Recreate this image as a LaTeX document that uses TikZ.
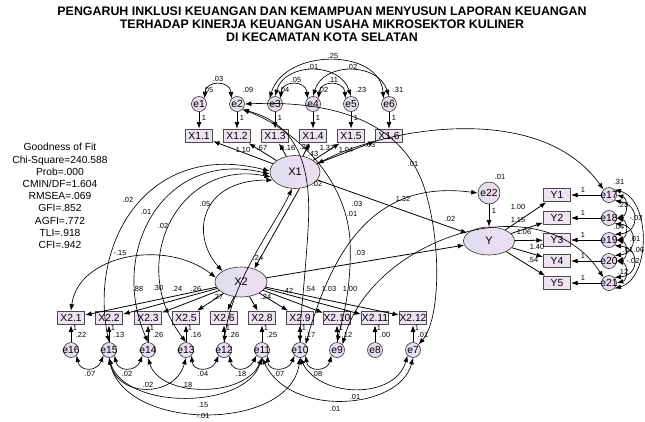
\documentclass[tikz,border=0pt]{standalone}
\usepackage{fontspec}
\setmainfont{Liberation Sans}
\usetikzlibrary{arrows.meta,shapes.geometric}
\definecolor{boxfill}{HTML}{EEE3F3}
\definecolor{shadeA}{HTML}{DCDFEE}
\definecolor{shadeB}{HTML}{F2DCF2}
\definecolor{rim}{HTML}{4A4A4A}
% zero-width text so that labels may overflow their shapes
\newcommand\zw[1]{\makebox[0pt]{#1}}
\begin{document}
\begin{tikzpicture}[x=1pt,y=-1pt,
  >={Latex[length=6.5pt,width=4.8pt]},
  reg/.style={->,line width=0.8pt},
  cov/.style={<->,line width=0.65pt},
  obs/.style={rectangle,draw=rim,line width=1.1pt,fill=boxfill,minimum width=27pt,minimum height=13.5pt,inner sep=0pt,font=\fontsize{10.3}{11}\selectfont},
  lat/.style={ellipse,draw=black!80,line width=0.6pt,left color=shadeA,right color=shadeB,inner sep=0pt,font=\fontsize{11}{12}\selectfont},
  err/.style={circle,draw=black!80,line width=0.6pt,left color=shadeA,right color=shadeB,minimum size=15pt,inner sep=0pt,font=\fontsize{10.3}{11}\selectfont},
  lbl/.style={inner sep=0pt,font=\fontsize{7.4}{8}\selectfont},
]
\useasboundingbox (0,0) rectangle (645,421);
\fill[white] (0,0) rectangle (645,421);

% title and fit indices
\node[font=\bfseries\fontsize{12.4}{13}\selectfont,align=center] (title) at (322,24)
 {PENGARUH INKLUSI KEUANGAN DAN KEMAMPUAN MENYUSUN LAPORAN KEUANGAN\\
  TERHADAP KINERJA KEUANGAN USAHA MIKROSEKTOR KULINER\\
  DI KECAMATAN KOTA SELATAN};
\node[font=\fontsize{10.3}{12.2}\selectfont,align=center] (fit) at (60,196)
 {Goodness of Fit\\Chi-Square=240.588\\Prob=.000\\CMIN/DF=1.604\\RMSEA=.069\\GFI=.852\\AGFI=.772\\TLI=.918\\CFI=.942};

% latent variables
\node[lat,minimum width=50pt,minimum height=33pt] (X1) at (295,172) {X1};
\node[lat,minimum width=52pt,minimum height=30pt] (X2) at (241,282) {X2};
\node[lat,minimum width=51pt,minimum height=28pt] (Y) at (489,241) {Y};
\node[err,minimum size=22pt] (e22) at (489,193) {e22};

% indicators of X1
\foreach \i in {1,...,6} {
  \pgfmathsetmacro{\xx}{161+38*\i}
  \node[err] (e\i) at (\xx,104) {\zw{e\i}};
  \node[obs] (X1\i) at (\xx,136) {\zw{X1.\i}};
}
% indicators of X2
\foreach \k/\xx/\ee in {1/71/16,2/109/15,3/148/14,5/186/13,6/224/12,8/262/11,9/300/10,10/337/9,11/375/8,12/413/7} {
  \node[obs] (X2\k) at (\xx,318) {\zw{X2.\k}};
  \node[err] (e\ee) at (\xx,350) {\zw{e\ee}};
}
% indicators of Y
\foreach \k/\yy in {1/195,2/218,3/240,4/261,5/283} {
  \pgfmathtruncatemacro{\ee}{16+\k}
  \node[obs] (Y\k) at (557,\yy) {\zw{Y\k}};
  \node[err] (e\ee) at (609,\yy) {\zw{e\ee}};
}

% regression paths
\foreach \i in {1,...,6} {
  \draw[reg] (e\i) -- (X1\i);
  \draw[reg] (X1) -- (X1\i);
}
\foreach \k/\ee in {1/16,2/15,3/14,5/13,6/12,8/11,9/10,10/9,11/8,12/7} {
  \draw[reg] (X2) -- (X2\k);
  \draw[reg] (e\ee) -- (X2\k);
}
\foreach \k in {1,...,5} {
  \pgfmathtruncatemacro{\ee}{16+\k}
  \draw[reg] (Y) -- (Y\k);
  \draw[reg] (e\ee) -- (Y\k);
}
\draw[reg] (e22) -- (Y);
\draw[reg] (X1) -- (Y);
\draw[reg] (X2) -- (Y);
\draw[reg] (X1.-75) -- (X2.45);

% covariances among e1..e6
\draw[cov] (e1.north east) .. controls (206,80) and (230,80) .. (e2.north west);
\draw[cov] (e3.north east) .. controls (282,80) and (306,80) .. (e4.north west);
\draw[cov] (e4.north east) .. controls (320,80) and (344,80) .. (e5.north west);
\draw[cov] (e3.north) .. controls (285,62) and (340,62) .. (e5.north);
\draw[cov] (e4.north) .. controls (323,62) and (378,62) .. (e6.north);
\draw[cov] (e3.north west) .. controls (285,48) and (380,48) .. (e6.north west);

% long covariances from e2
\draw[cov] (e2.east) .. controls (340,100) and (405,125) .. (425,190)
           .. controls (442,245) and (440,320) .. (e7.north east);
\draw[cov] (e2.south east) .. controls (285,125) and (345,170) .. (350,240)
           .. controls (352,290) and (342,320) .. (e9.north);
\draw[cov] (e2.south east) .. controls (300,125) and (312,170) .. (308,230)
           .. controls (305,280) and (300,320) .. (e10.north);

% covariances around X1 and X2
\draw[cov] (X1.178) .. controls (150,140) and (88,240) .. (e15.north);
\draw[cov] (X1.185) .. controls (165,148) and (108,250) .. (e14.north);
\draw[cov] (X1.192) .. controls (180,158) and (125,262) .. (e13.north);
\draw[cov] (X1.200) .. controls (200,180) and (190,235) .. (X2.north west);
\draw[cov] (X1.-100) .. controls (275,225) and (232,280) .. (e12.north);
\draw[cov] (X21.north) .. controls (78,255) and (165,238) .. (X2.170);
\draw[cov] (X1.20) .. controls (385,128) and (540,100) .. (e17.north west);
\draw[cov] (e10.north east) .. controls (335,240) and (380,180) .. (e22.west);
\draw[cov] (e9.north east) .. controls (370,240) and (540,180) .. (e21.north west);

% covariances among e7..e16
\draw[cov] (e16.south east) .. controls (80,372) and (97,372) .. (e15.south west);
\draw[cov] (e15.south east) .. controls (118,372) and (136,372) .. (e14.south west);
\draw[cov] (e13.south east) .. controls (193,372) and (212,372) .. (e12.south west);
\draw[cov] (e12.south east) .. controls (232,372) and (248,372) .. (e11.south west);
\draw[cov] (e11.south east) .. controls (268,372) and (288,372) .. (e10.south west);
\draw[cov] (e10.south east) .. controls (308,372) and (327,372) .. (e9.south west);
\draw[cov] (e15.south) .. controls (118,398) and (175,398) .. (e13.south);
\draw[cov] (e14.south) .. controls (160,398) and (245,398) .. (e11.south);
\draw[cov] (e15.south) .. controls (125,410) and (245,410) .. (e11.south);
\draw[cov] (e15.south) .. controls (125,432) and (290,432) .. (e10.south);
\draw[cov] (e11.south) .. controls (290,418) and (400,410) .. (e7.south);
\draw[cov] (e10.south) .. controls (320,398) and (395,400) .. (e7.south west);

% covariances among e17..e21
\draw[cov] (e17.east) .. controls (628,198) and (628,215) .. (e18.east);
\draw[cov] (e18.east) .. controls (628,221) and (628,237) .. (e19.east);
\draw[cov] (e19.east) .. controls (628,243) and (628,258) .. (e20.east);
\draw[cov] (e20.east) .. controls (628,264) and (628,280) .. (e21.east);
\draw[cov] (e17.south east) .. controls (640,205) and (640,232) .. (e19.north east);
\draw[cov] (e18.south east) .. controls (638,226) and (638,253) .. (e20.north east);
\draw[cov] (e19.south east) .. controls (640,248) and (640,275) .. (e21.north east);
\draw[cov] (e17.north east) .. controls (651,200) and (651,278) .. (e21.south east);

% fixed loadings and squared multiple correlations
\foreach \i in {1,...,6} {
  \pgfmathsetmacro{\xx}{161+38*\i}
  \node[lbl] (u\i) at (\xx+5,118) {1};
}
\foreach \k/\xx/\rr in {1/71/.22,2/109/.13,3/148/.26,5/186/.16,6/224/.26,8/262/.25,9/300/.17,10/337/.12,11/375/.00,12/413/.01} {
  \node[lbl] (w\k) at (\xx+4,328) {1};
  \node[lbl] (q\k) at (\xx+10,335) {\rr};
}
\foreach \k/\yy in {1/195,2/218,3/240,4/261,5/283} {
  \node[lbl] (z\k) at (583,\yy-5) {1};
}

% estimates, top
\node[lbl] (a1) at (218,79) {.03};
\node[lbl] (a2) at (296,80) {.05};
\node[lbl] (a3) at (333,80) {.11};
\node[lbl] (a4) at (313,67) {.01};
\node[lbl] (a5) at (352,67) {.02};
\node[lbl] (a6) at (333,56) {.25};
\node[lbl] (v1) at (208,90) {.05};
\node[lbl] (v2) at (248,90) {.09};
\node[lbl] (v3) at (284,90) {.04};
\node[lbl] (v4) at (323,90) {.02};
\node[lbl] (v5) at (361,90) {.23};
\node[lbl] (v6) at (398,90) {.31};
\node[lbl] (b1) at (243,150) {1.10};
\node[lbl] (b2) at (262,148) {.67};
\node[lbl] (b3) at (288,148) {1.16};
\node[lbl] (b4) at (305,147) {.29};
\node[lbl] (b5) at (313,154) {.43};
\node[lbl] (b6) at (327,148) {1.37};
\node[lbl] (b7) at (346,150) {1.04};
\node[lbl] (b8) at (370,145) {.03};
% estimates, left and middle
\node[lbl] (c1) at (128,200) {.02};
\node[lbl] (c2) at (146,212) {.01};
\node[lbl] (c3) at (163,226) {.02};
\node[lbl] (c4) at (205,204) {.05};
\node[lbl] (c5) at (120,253) {-.15};
\node[lbl] (d1) at (317,184) {.02};
\node[lbl] (d2) at (258,258) {.24};
\node[lbl] (m1) at (403,199) {1.32};
\node[lbl] (m2) at (413,164) {.01};
\node[lbl] (m3) at (357,204) {.03};
\node[lbl] (m4) at (352,214) {.01};
\node[lbl] (m5) at (360,253) {.03};
\node[lbl] (m6) at (450,219) {.02};
% estimates, Y side
\node[lbl] (y0) at (500,177) {.01};
\node[lbl] (y1) at (494,211) {1};
\node[lbl] (y2) at (518,207) {1.00};
\node[lbl] (y3) at (518,220) {1.15};
\node[lbl] (y4) at (524,232) {1.06};
\node[lbl] (y5) at (537,247) {1.40};
\node[lbl] (y6) at (533,260) {.54};
\node[lbl] (s0) at (619,182) {.31};
\node[lbl] (s1) at (623,205) {.23};
\node[lbl] (s2) at (636,218) {-.03};
\node[lbl] (s3) at (619,227) {.04};
\node[lbl] (s4) at (635,239) {.01};
\node[lbl] (s5) at (628,250) {.01};
\node[lbl] (s6) at (639,250) {.06};
\node[lbl] (s7) at (633,261) {-.02};
\node[lbl] (s8) at (623,272) {.12};
% estimates, X2 side
\node[lbl] (g1) at (138,289) {.88};
\node[lbl] (g2) at (158,288) {.30};
\node[lbl] (g3) at (177,289) {.24};
\node[lbl] (g4) at (196,289) {.26};
\node[lbl] (g5) at (218,297) {.27};
\node[lbl] (g6) at (266,297) {.24};
\node[lbl] (g7) at (288,291) {.42};
\node[lbl] (g8) at (310,289) {.54};
\node[lbl] (g9) at (329,289) {1.03};
\node[lbl] (g10) at (350,289) {1.00};
% estimates, bottom
\node[lbl] (f1) at (90,374) {.07};
\node[lbl] (f2) at (127,374) {.02};
\node[lbl] (f3) at (203,374) {.04};
\node[lbl] (f4) at (241,374) {.18};
\node[lbl] (f5) at (279,374) {.07};
\node[lbl] (f6) at (317,374) {.08};
\node[lbl] (f7) at (148,385) {.02};
\node[lbl] (f8) at (187,385) {.18};
\node[lbl] (f9) at (203,405) {.15};
\node[lbl] (f10) at (203,416) {-.01};
\node[lbl] (f11) at (355,397) {.01};
\node[lbl] (f12) at (335,409) {.01};
\end{tikzpicture}
\end{document}
